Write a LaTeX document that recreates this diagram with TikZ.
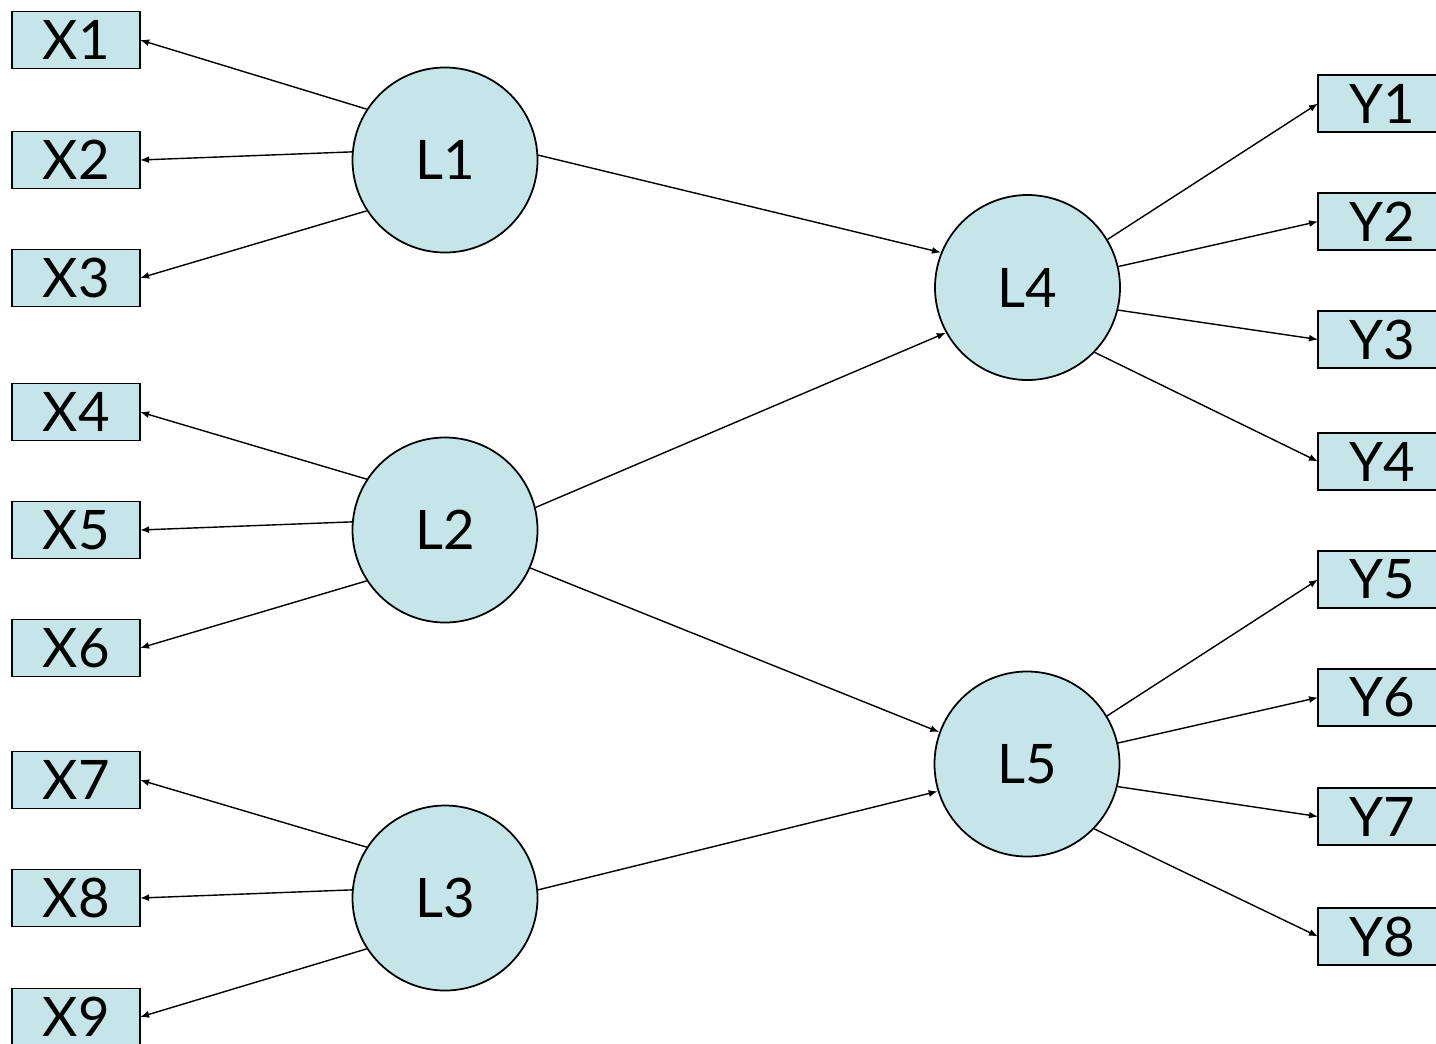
\documentclass[tikz,border=0pt]{standalone}
\usepackage{fontspec}
\setmainfont{Lato}
\usetikzlibrary{arrows.meta,positioning}
\usepackage{xcolor}
\definecolor{latentblue}{RGB}{197,229,232}

\begin{document}
\begin{tikzpicture}[
				node distance=1.22cm,
				latent/.style={draw,circle,line width=1pt,fill=latentblue,minimum size=3.7cm,inner sep=0pt,font=\fontsize{31}{37}\selectfont},
				obs/.style={draw,rectangle,line width=1pt,fill=latentblue,minimum width=2.56cm,minimum height=1.14cm,inner sep=0pt,outer sep=0pt,font=\fontsize{31}{37}\selectfont},
				load/.style={-{Latex[length=1.8mm,width=1.4mm]},line width=0.8pt}
				]
				
				\useasboundingbox (0,0) rectangle (28.72,-20.86);
				
				% Variabili latenti
				\node[latent] (L1) at (8.9,-3.2) {L1};
				\node[latent] (L2) at (8.9,-10.6) {L2};
				\node[latent] (L3) at (8.9,-17.96) {L3};
				\node[latent] (L4) at (20.55,-5.75) {L4};
				\node[latent] (L5) at (20.54,-15.28) {L5};
				
				% Indicatori X
				\node[obs,left=4.23cm of L1] (X2) {X2};
				\node[obs,above=1.26cm of X2] (X1) {X1};
				\node[obs,below=of X2] (X3) {X3};
				\node[obs,left=4.23cm of L2] (X5) {X5};
				\node[obs,above=of X5] (X4) {X4};
				\node[obs,below=of X5] (X6) {X6};
				\node[obs,left=4.23cm of L3] (X8) {X8};
				\node[obs,above=of X8] (X7) {X7};
				\node[obs,below=1.24cm of X8] (X9) {X9};
				
				% Indicatori Y
				\node[obs] (Y1) at (27.64,-2.07) {Y1};
				\node[obs,below=1.22cm of Y1] (Y2) {Y2};
				\node[obs,below=1.22cm of Y2] (Y3) {Y3};
				\node[obs,below=1.3cm of Y3] (Y4) {Y4};
				\node[obs,below=1.22cm of Y4] (Y5) {Y5};
				\node[obs,below=1.22cm of Y5] (Y6) {Y6};
				\node[obs,below=1.24cm of Y6] (Y7) {Y7};
				\node[obs,below=1.26cm of Y7] (Y8) {Y8};
				
				% Saturazioni L1, L2, L3
				\draw[load] (L1.147) -- (X1.east);
				\draw[load] (L1.175) -- (X2.east);
				\draw[load] (L1.213) -- (X3.east);
				\draw[load] (L2.147) -- (X4.east);
				\draw[load] (L2.175) -- (X5.east);
				\draw[load] (L2.213) -- (X6.east);
				\draw[load] (L3.147) -- (X7.east);
				\draw[load] (L3.175) -- (X8.east);
				\draw[load] (L3.213) -- (X9.east);
				
				% Relazioni strutturali
				\draw[load] (L1.3) -- (L4.158);
				\draw[load] (L2.14) -- (L4.209);
				\draw[load] (L2.-24) -- (L5.160);
				\draw[load] (L3.5) -- (L5.197);
				
				% Saturazioni L4, L5
				\draw[load] (L4.31) -- (Y1.west);
				\draw[load] (L4.13) -- (Y2.west);
				\draw[load] (L4.-14) -- (Y3.west);
				\draw[load] (L4.-44) -- (Y4.west);
				\draw[load] (L5.31) -- (Y5.west);
				\draw[load] (L5.13) -- (Y6.west);
				\draw[load] (L5.-14) -- (Y7.west);
				\draw[load] (L5.-44) -- (Y8.west);
				
			\end{tikzpicture}
\end{document}
